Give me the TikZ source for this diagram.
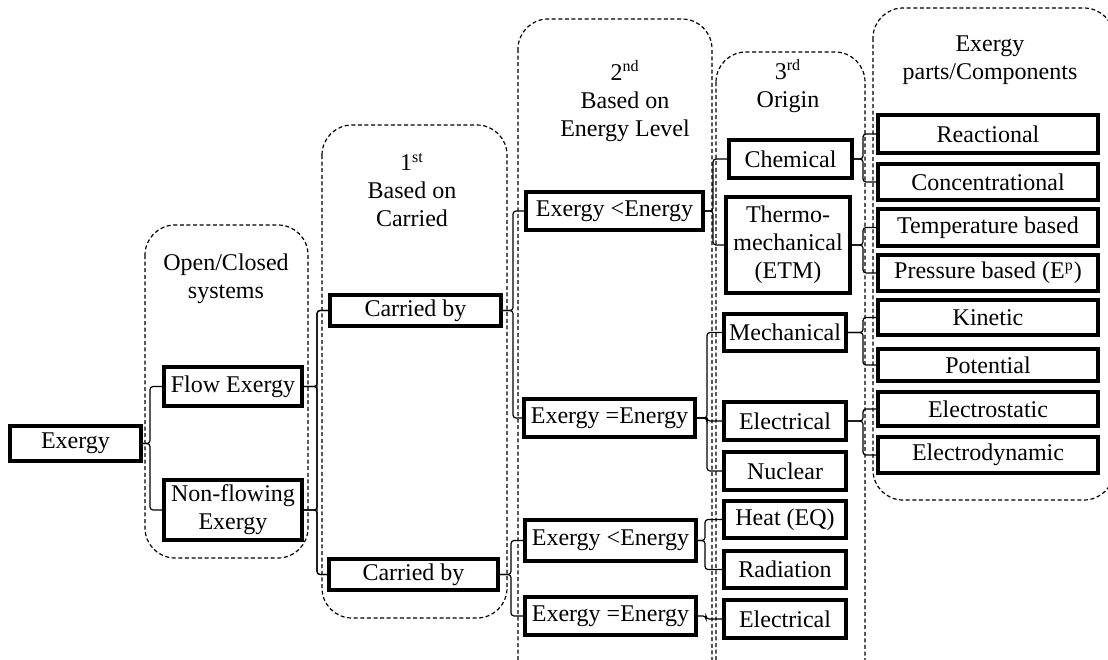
\documentclass[tikz,border=0pt]{standalone}
\usepackage{fontspec}
\setmainfont{Liberation Serif}
\begin{document}
\begin{tikzpicture}[x=0.5pt,y=-0.5pt,
  bx/.style={draw, line width=2pt, inner sep=1pt, align=center, font=\fontsize{12}{14}\selectfont},
  grp/.style={draw, line width=0.6pt, dash pattern=on 2pt off 1.3pt, rounded corners=15pt},
  ttl/.style={align=center, inner sep=0pt, font=\fontsize{12}{14}\selectfont},
  conn/.style={line width=0.6pt, rounded corners=1.5pt}]
\useasboundingbox (0,0) rectangle (1108,659);
% groups
\begin{scope}
\clip (0,0) rectangle (1108,659);
\draw[grp] (145,225) rectangle (308,558);
\draw[grp] (322,125) rectangle (507,618);
\draw[grp] (518,19) rectangle (712,690);
\draw[grp] (716,52) rectangle (865,690);
\draw[grp] (873,8) rectangle (1114,500);
\end{scope}
% titles
\node[ttl] (t1) at (226,279) {Open/Closed\\systems};
\node[ttl] (t2) at (412,190) {1\textsuperscript{st}\\Based on\\Carried};
\node[ttl] (t3) at (625,101) {2\textsuperscript{nd}\\Based on\\Energy Level};
\node[ttl] (t4) at (788,86) {3\textsuperscript{rd}\\Origin};
\node[ttl] (t5) at (990,60) {Exergy\\parts/Components};
% boxes
\node[bx, minimum width=65.5pt, minimum height=17.5pt] (ex) at (75.5,443.5) {Exergy};
\node[bx, minimum width=69pt, minimum height=19.5pt] (flow) at (233,386.5) {Flow Exergy};
\node[bx, minimum width=69pt, minimum height=30pt] (nonflow) at (233,510) {Non-flowing\\Exergy};
\node[bx, minimum width=85.5pt, minimum height=15.5pt] (carr1) at (415.5,310.5) {Carried by};
\node[bx, minimum width=84.5pt, minimum height=15.5pt] (carr2) at (413.5,574.5) {Carried by};
\node[bx, minimum width=88.5pt, minimum height=19pt] (le1) at (614.5,211) {Exergy <Energy};
\node[bx, minimum width=85.5pt, minimum height=19pt] (eq1) at (609.5,418) {Exergy =Energy};
\node[bx, minimum width=85.5pt, minimum height=20.5pt] (le2) at (610.5,540.5) {Exergy <Energy};
\node[bx, minimum width=85.5pt, minimum height=19pt] (eq2) at (610.5,616) {Exergy =Energy};
\node[bx, minimum width=61.5pt, minimum height=19pt] (chem) at (790.5,159) {Chemical};
\node[bx, minimum width=62pt, minimum height=48pt] (etm) at (788,245) {Thermo-\\mechanical\\(ETM)};
\node[bx, minimum width=61pt, minimum height=18.5pt] (mech) at (785,332.5) {Mechanical};
\node[bx, minimum width=61pt, minimum height=19pt] (elec) at (785,421) {Electrical};
\node[bx, minimum width=61pt, minimum height=19pt] (nuc) at (785,471) {Nuclear};
\node[bx, minimum width=61pt, minimum height=18.5pt] (heat) at (785,519.5) {Heat (EQ)};
\node[bx, minimum width=61pt, minimum height=18.5pt] (rad) at (785,569.5) {Radiation};
\node[bx, minimum width=61pt, minimum height=19pt] (elec2) at (785,619) {Electrical};
\node[bx, minimum width=110pt, minimum height=19pt] (react) at (988,134) {Reactional};
\node[bx, minimum width=110pt, minimum height=18pt] (conc) at (988,182) {Concentrational};
\node[bx, minimum width=110pt, minimum height=18.5pt] (temp) at (988,227.5) {Temperature based};
\node[bx, minimum width=110pt, minimum height=18pt] (press) at (988,273) {Pressure based (E\textsuperscript{p})};
\node[bx, minimum width=110pt, minimum height=17.5pt] (kin) at (988,317.5) {Kinetic};
\node[bx, minimum width=110pt, minimum height=16pt] (pot) at (988,365) {Potential};
\node[bx, minimum width=110pt, minimum height=17pt] (es) at (988,409) {Electrostatic};
\node[bx, minimum width=110pt, minimum height=18pt] (ed) at (988,455) {Electrodynamic};
% connectors
\foreach \c in {flow,nonflow} \draw[conn] (ex.east) -- ++(7,0) |- (\c.west);
\foreach \c in {carr1,carr2} {
  \draw[conn] (flow.east) -- ++(13,0) |- (\c.west);
  \draw[conn] (nonflow.east) -- ++(13,0) |- (\c.west);
}
\foreach \c in {le1,eq1} \draw[conn] (carr1.east) -- ++(10,0) |- (\c.west);
\foreach \c in {le2,eq2} \draw[conn] (carr2.east) -- ++(11,0) |- (\c.west);
\foreach \c in {chem,etm} \draw[conn] (le1.east) -- ++(8,0) |- (\c.west);
\foreach \c in {mech,elec,nuc} \draw[conn] (eq1.east) -- ++(10,0) |- (\c.west);
\foreach \c in {heat,rad} \draw[conn] (le2.east) -- ++(7,0) |- (\c.west);
\draw[conn] (eq2.east) -- ++(8,0) |- (elec2.west);
\foreach \c in {react,conc} \draw[conn] (chem.east) -- ++(9,0) |- (\c.west);
\foreach \c in {temp,press} \draw[conn] (etm.east) -- ++(11,0) |- (\c.west);
\foreach \c in {kin,pot} \draw[conn] (mech.east) -- ++(15,0) |- (\c.west);
\foreach \c in {es,ed} \draw[conn] (elec.east) -- ++(15,0) |- (\c.west);
\end{tikzpicture}
\end{document}
